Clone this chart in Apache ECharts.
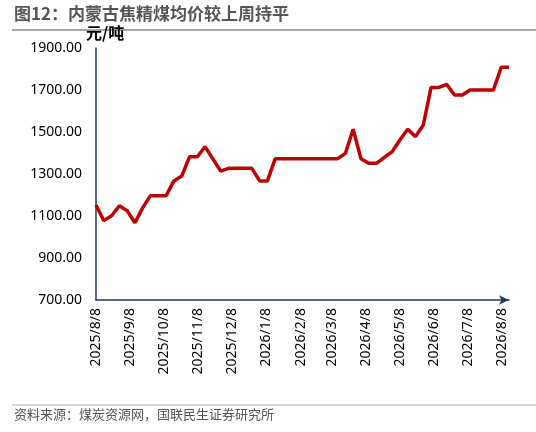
<!DOCTYPE html>
<html><head><meta charset="utf-8">
<script src="https://cdn.jsdelivr.net/npm/echarts@6/dist/echarts.min.js"></script>
<style>body{margin:0}#c{width:536px;height:432px}</style></head>
<body><div id="c"></div>
<script>
var startDate = '2025-08-08';
var values = [1152,1078,1101,1149,1125,1068,1140,1197,1197,1197,1267,1290,1382,1382,1430,1372,1314,1327,1327,1327,1327,1267,1267,1373,1373,1373,1373,1373,1373,1373,1373,1373,1398,1513,1373,1351,1351,1379,1406,1462,1513,1478,1533,1712,1712,1727,1676,1676,1700,1700,1700,1700,1808,1808];
var tickDates = ['2025-08-08','2025-09-08','2025-10-08','2025-11-08','2025-12-08','2026-01-08','2026-02-08','2026-03-08','2026-04-08','2026-05-08','2026-06-08','2026-07-08','2026-08-08'];
var t0 = new Date(startDate + 'T00:00:00').getTime();
var data = values.map(function(v,i){return [t0 + i*7*86400000, v];});
var ticks = tickDates.map(function(d){return new Date(d+'T00:00:00').getTime();});
var chart = echarts.init(document.getElementById('c'));
chart.setOption({
  animation:false,
  graphic:[
    {type:'text',left:14,top:5,style:{text:'图12：内蒙古焦精煤均价较上周持平',font:'bold 17px "Noto Sans CJK SC"',fill:'#555'}},
    {type:'line',shape:{x1:12,y1:30,x2:536,y2:30},style:{stroke:'#888',lineWidth:1.5}},
    {type:'text',left:14,top:408,style:{text:'资料来源：煤炭资源网，国联民生证券研究所',font:'13px "Noto Sans CJK SC"',fill:'#555'}},
    {type:'line',shape:{x1:12,y1:405,x2:536,y2:405},style:{stroke:'#aaa',lineWidth:1}}
  ],
  grid:{left:96,right:27,top:48,bottom:132},
  xAxis:{type:'value',min:t0,max:data[data.length-1][0],
    axisLine:{lineStyle:{color:'#1f3864',width:1.5},symbol:['none','arrow'],symbolSize:[7,10]},
    axisTick:{show:false},splitLine:{show:false},
    axisLabel:{customValues:ticks,rotate:90,color:'#000',fontSize:14,fontFamily:'Noto Sans',
      formatter:function(v){var d=new Date(v);return d.getFullYear()+'/'+(d.getMonth()+1)+'/'+d.getDate();}}},
  yAxis:{type:'value',min:700,max:1900,interval:200,
    name:'元/吨',nameLocation:'end',nameGap:-14,nameTextStyle:{fontSize:16,fontWeight:'bold',color:'#000',align:'left',padding:[0,0,0,-10],fontFamily:'Noto Sans CJK SC'},
    axisLine:{show:true,lineStyle:{color:'#1f3864',width:1.5}},axisTick:{show:false},splitLine:{show:false},
    axisLabel:{color:'#000',fontSize:14,fontFamily:'Noto Sans',margin:14,formatter:function(v){return v.toFixed(2);}}},
  series:[{type:'line',data:data,showSymbol:false,lineStyle:{color:'#c00000',width:3.5}}]
});
</script></body></html>
